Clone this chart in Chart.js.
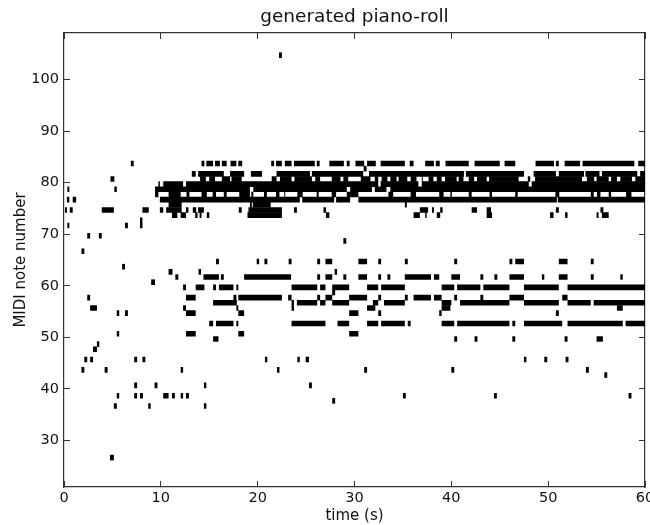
<!DOCTYPE html>
<html>
<head>
<meta charset="utf-8">
<title>generated piano-roll</title>
<script src="https://cdn.jsdelivr.net/npm/chart.js@4"></script>
<style>
 html,body{margin:0;padding:0;background:#fff;}
 #wrap{width:650px;height:525px;}
</style>
</head>
<body>
<div id="wrap"><canvas id="chart" width="650" height="525"></canvas></div>
<script>
// note spans in seconds, one list per MIDI pitch
const note105 = [[22.2,22.5]];
const note84 = [[6.9,7.2],[14.2,14.5],[14.7,15.4],[15.6,16.1],[16.3,16.8],[17.2,17.8],[18,18.4],[21.4,21.7],[21.9,22.5],[22.8,23.5],[23.75,25.9],[26.1,26.4],[27.4,28.9],[29.2,29.5],[30.1,31],[31.3,32.2],[32.7,35.2],[35.7,36.1],[37.3,38.2],[38.4,38.8],[39.4,41.8],[42.4,45],[45.5,46.6],[48.7,50.6],[50.8,51.1],[51.7,53.3],[53.55,58.9],[59.3,60]];
const note83 = [[30.95,31.25]];
const note82 = [[13.2,13.6],[13.85,16.5],[17.15,18.6],[19.3,20.45],[21.95,25.4],[25.6,30.9],[31.5,41.3],[41.5,47.5],[48.5,50.8],[51.1,53.7],[53.85,55.3],[55.55,59.2],[59.5,60]];
const note81 = [[4.8,5.2],[14.05,14.65],[15,15.6],[16.3,17.15],[17.3,18.35],[21.45,21.95],[22.3,23.5],[23.8,25.6],[25.95,26.45],[27.65,28.55],[28.85,29.35],[30.65,31.65],[32.1,32.45],[32.8,33.4],[33.7,34.35],[34.55,35.45],[35.8,36.4],[36.95,37.05],[37.65,38.15],[38.5,39],[39.35,40.55],[40.75,41.25],[41.8,42.35],[42.65,43.65],[43.9,46.95],[47.9,48.15],[48.65,53.5],[54,54.75],[55,56.25],[56.5,57.1],[57.45,58.65],[59,60]];
const note80 = [[9.75,9.9],[10.25,12.3],[12.6,32.45],[32.7,36.6],[36.95,48],[48.3,60]];
const note79 = [[0.35,0.55],[5.2,5.45],[9.4,19.2],[19.55,29.2],[29.55,31.8],[32.1,33.3],[33.7,60]];
const note78 = [[9.4,9.75],[10.8,12.05],[12.65,12.95],[14.2,14.75],[15.35,15.7],[16.5,16.8],[18.1,19.2],[19.35,19.55],[20.65,20.95],[21.9,22.25],[22.75,22.85],[24.1,24.65],[26.1,26.3],[27.65,28.1],[29.2,30.4],[33.5,34],[35.8,36.35],[38.75,39.2],[39.9,40.05],[41.8,42.1],[43.95,44.2],[46.6,46.85],[50.75,51.15],[54.4,54.7],[55.05,55.4],[56.25,56.5],[58.05,58.6]];
const note77 = [[0.3,0.55],[0.9,1.25],[9.9,24.35],[24.6,27.9],[28.1,29.55],[30.4,50.9],[51,60]];
const note76 = [[10.8,12.15],[19.2,19.4],[19.5,21.35],[35.2,35.4]];
const note75 = [[0.1,0.3],[0.6,0.9],[3.9,5.15],[8.1,8.75],[9.9,10.25],[10.55,12.15],[12.6,12.85],[13.3,13.65],[13.85,14.45],[18.05,18.35],[19.05,22.5],[23.75,24.05],[26.8,27.05],[36.75,37.6],[38,38.2],[38.85,39.1],[42.1,42.65],[43.65,44.1],[50.8,51.1],[55.4,55.7]];
const note74 = [[11.15,11.7],[12.05,12.6],[13.55,13.8],[14,14.2],[14.75,15],[18.95,22.5],[27.05,27.4],[36.1,36.75],[37.3,37.45],[38.5,38.85],[43.65,44.2],[50.2,50.55],[51.75,52],[55,55.2],[55.55,56.25]];
const note73 = [[7.85,8.1]];
const note72 = [[0.35,0.55],[6.3,6.6],[7.85,8.1]];
const note70 = [[2.4,2.7],[3.6,3.9]];
const note69 = [[28.85,29.15]];
const note67 = [[1.8,2.1]];
const note65 = [[15.7,16],[19.9,20.15],[20.7,21],[23.2,23.5],[26.15,26.45],[27,27.7],[30.4,31.3],[32.45,32.75],[35.2,35.5],[40.3,40.6],[46,46.3],[46.6,47.5],[51.1,52],[54.4,54.7]];
const note64 = [[6,6.3]];
const note63 = [[10.8,11.2],[13.9,14.15],[27.95,28.2]];
const note62 = [[11.5,11.8],[14.4,16],[16.2,16.5],[18.6,23.45],[26.15,26.45],[27,27.7],[28.85,29.15],[30.4,31.3],[32.45,32.75],[33.4,33.7],[35.2,37.9],[38.2,38.75],[40,40.9],[43,43.3],[44.45,44.75],[46,47.5],[49.35,49.6],[51.1,52],[54.4,54.7],[57.45,57.7]];
const note61 = [[9,9.4]];
const note60 = [[12.3,12.6],[13.6,14.5],[15.4,15.7],[16,17.5],[17.8,18],[23.5,26.15],[26.45,27],[27.7,29.45],[31.3,32.45],[32.75,35.2],[39,40.3],[40.6,43],[43.3,46],[47.5,51.1],[52,60]];
const note59 = [[27.7,28]];
const note58 = [[2.4,2.7],[12.6,13.6],[17.5,17.8],[18,22.5],[23.15,23.5],[26.15,26.45],[27,27.7],[29.45,31.3],[32.45,32.75],[35.2,35.5],[36.1,37.9],[38.2,39],[40.3,40.6],[43,43.3],[46,47.5],[51.45,52]];
const note57 = [[15.4,17.85],[23.5,23.75],[24.05,26.15],[26.45,27],[27.7,29.45],[31.9,32.45],[33.05,35.2],[39,40],[40.9,46],[47.5,51.1],[52,54.4],[54.7,60]];
const note56 = [[2.7,3.4],[12.3,12.6],[17.8,18],[23.5,23.75],[31.3,32.15],[39,39.9],[57.1,57.7]];
const note55 = [[5.45,5.7],[6.3,6.6],[12.6,13.6],[18,18.6],[29.45,30.4],[32.45,32.75],[38.75,39],[50.8,51.1]];
const note53 = [[15,15.4],[15.7,17.5],[17.8,18],[23.5,27],[28.25,29.45],[31.3,32.45],[32.75,35.2],[35.5,35.8],[39,40.3],[40.6,46],[46.3,46.6],[47.5,51.45],[52,57.7],[58,60]];
const note51 = [[5.45,5.7],[12.6,13.6],[18,18.6],[29.45,30.4]];
const note50 = [[15.4,15.95],[40.3,40.6],[42.4,42.7],[46.3,46.6],[51.7,52],[55,55.65]];
const note49 = [[3.4,3.65]];
const note48 = [[3,3.4]];
const note46 = [[2.1,2.4],[2.7,3],[7.25,7.55],[8.1,8.4],[20.75,21],[24.1,24.35],[24.95,25.3],[47.5,47.75],[49.6,49.9],[51.8,52.1]];
const note44 = [[1.8,2.1],[4.2,4.5],[12.05,12.3],[22,22.25],[31,31.3],[40,40.3],[53.9,54.2]];
const note43 = [[55.8,56.1]];
const note41 = [[7.25,7.55],[9.35,9.65],[14.45,14.7],[25.3,25.6]];
const note39 = [[5.45,5.7],[7.25,7.55],[7.85,8.15],[10.25,10.8],[11.15,11.45],[12.05,12.3],[12.6,12.9],[35,35.3],[44.4,44.7],[58.3,58.6]];
const note38 = [[27.7,28]];
const note37 = [[5.15,5.45],[8.7,8.95],[14.45,14.7]];
const note27 = [[4.75,5.15]];

const pitches = [105,84,83,82,81,80,79,78,77,76,75,74,73,72,70,69,67,65,64,63,62,61,60,59,58,57,56,55,53,51,50,49,48,46,44,43,41,39,38,37,27];
const spans = [note105,note84,note83,note82,note81,note80,note79,note78,note77,note76,note75,note74,note73,note72,note70,note69,note67,note65,note64,note63,note62,note61,note60,note59,note58,note57,note56,note55,note53,note51,note50,note49,note48,note46,note44,note43,note41,note39,note38,note37,note27];

const xTicks = [0,10,20,30,40,50,60];
const yTicks = [30,40,50,60,70,80,90,100];

// rows in the picture sit a bit under the integer pitch
const rowOffset = 0.3;

const datasets = pitches.map((p,i)=>{
  const pts = [];
  spans[i].forEach(s=>{
    pts.push({x:s[0],y:p-rowOffset});
    pts.push({x:s[1],y:p-rowOffset});
    pts.push({x:s[1],y:null});
  });
  return {
    label:"note "+p,
    data:pts,
    xAxisID:"x",
    yAxisID:"y",
    borderColor:"#000",
    borderWidth:5.6,
    borderCapStyle:"butt",
    pointRadius:0,
    tension:0,
    spanGaps:false
  };
});

const textColor = "#111";
const tickFont = {family:"'DejaVu Sans'",size:14.5};
const labelFont = {family:"'DejaVu Sans'",size:15};
const frame = {color:"#333",width:1.2};

function insideGrid(){
  return {drawOnChartArea:false,drawTicks:true,tickLength:-6,tickColor:"#333",tickWidth:1};
}

new Chart(document.getElementById("chart"),{
  type:"line",
  data:{datasets:datasets},
  options:{
    responsive:false,
    animation:false,
    events:[],
    layout:{padding:0},
    plugins:{
      legend:{display:false},
      tooltip:{enabled:false},
      title:{display:false}
    },
    scales:{
      x:{
        type:"linear",position:"bottom",min:0,max:60,
        afterFit:s=>{s.height=38;s.paddingLeft=0;s.paddingRight=0;},
        afterBuildTicks:s=>{s.ticks=xTicks.map(v=>({value:v}));},
        grid:insideGrid(),border:frame,
        title:{display:true,text:"time (s)",color:textColor,font:labelFont,padding:{top:0,bottom:0}},
        ticks:{color:textColor,font:tickFont,padding:9,maxRotation:0,autoSkip:false}
      },
      xTop:{
        type:"linear",position:"top",min:0,max:60,
        afterFit:s=>{s.height=33;s.paddingLeft=0;s.paddingRight=0;},
        afterBuildTicks:s=>{s.ticks=xTicks.map(v=>({value:v}));},
        grid:insideGrid(),border:frame,
        title:{display:true,text:"generated piano-roll",color:textColor,
          font:{family:"'DejaVu Sans'",size:18.5,weight:"normal"},padding:{top:6,bottom:0}},
        ticks:{display:false}
      },
      y:{
        type:"linear",position:"left",min:21,max:109,
        afterFit:s=>{s.width=64;s.paddingTop=0;s.paddingBottom=0;},
        afterBuildTicks:s=>{s.ticks=yTicks.map(v=>({value:v}));},
        grid:insideGrid(),border:frame,
        title:{display:true,text:"MIDI note number",color:textColor,font:labelFont,padding:{top:12,bottom:0}},
        ticks:{color:textColor,font:tickFont,padding:11,autoSkip:false}
      },
      yRight:{
        type:"linear",position:"right",min:21,max:109,
        afterFit:s=>{s.width=5;s.paddingTop=0;s.paddingBottom=0;},
        afterBuildTicks:s=>{s.ticks=yTicks.map(v=>({value:v}));},
        grid:insideGrid(),border:frame,
        ticks:{display:false}
      }
    }
  }
});
</script>
</body>
</html>
